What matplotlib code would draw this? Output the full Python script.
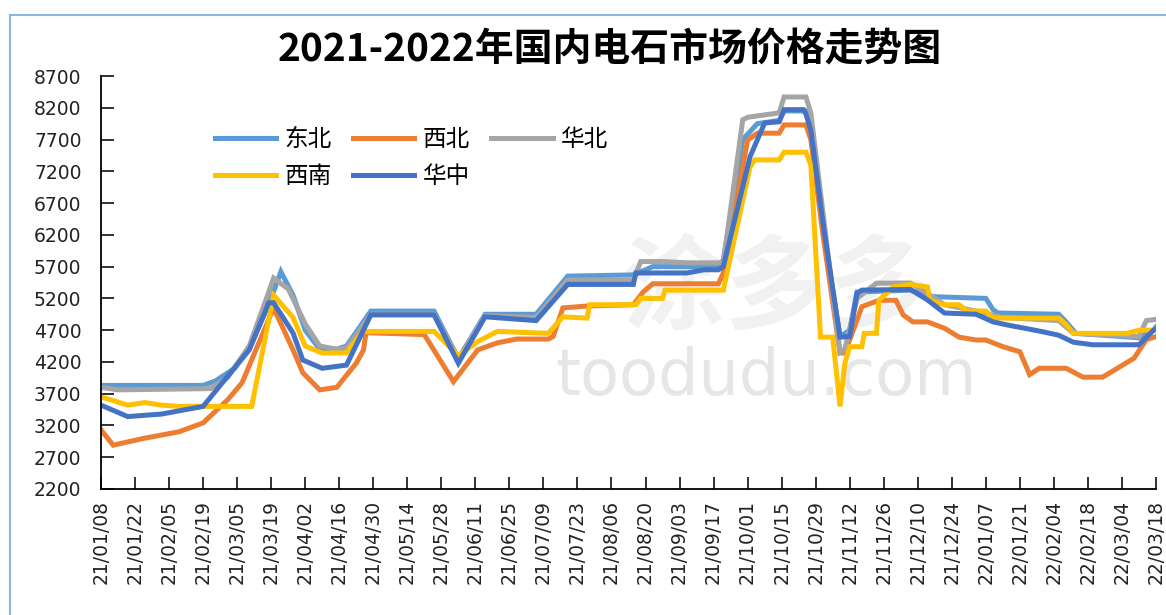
import matplotlib
matplotlib.use("Agg")
import matplotlib.pyplot as plt
import matplotlib.dates as mdates
from matplotlib.lines import Line2D
import pandas as pd

plt.rcParams['font.family'] = ['Noto Sans CJK SC', 'DejaVu Sans']

# 东北
db_dates = ['2021-01-08', '2021-02-19', '2021-02-24', '2021-03-04', '2021-03-11', '2021-03-18',
            '2021-03-23', '2021-03-28', '2021-04-02', '2021-04-08', '2021-04-15', '2021-04-19',
            '2021-04-29', '2021-05-25', '2021-06-04', '2021-06-15', '2021-07-06', '2021-07-19',
            '2021-08-15', '2021-08-23', '2021-09-18', '2021-09-21', '2021-09-29', '2021-10-05',
            '2021-10-14', '2021-10-16', '2021-10-25', '2021-10-27', '2021-11-01', '2021-11-08',
            '2021-11-12', '2021-11-15', '2021-12-07', '2021-12-14', '2022-01-07', '2022-01-10',
            '2022-01-12', '2022-02-06', '2022-02-09', '2022-02-13', '2022-03-11', '2022-03-17',
            '2022-03-18']
db_vals = [3830, 3830, 3900, 4100, 4500, 5100,
           5620, 5250, 4700, 4400, 4400, 4450,
           5000, 5000, 4250, 4950, 4950, 5550,
           5570, 5700, 5700, 5800, 7700, 7950,
           8000, 8150, 8150, 7900, 6300, 4600,
           4700, 5300, 5330, 5230, 5200, 5020,
           4970, 4950, 4830, 4650, 4580, 4700,
           4750]

# 西北
xb_dates = ['2021-01-08', '2021-01-13', '2021-01-26', '2021-02-09', '2021-02-19', '2021-03-01',
            '2021-03-07', '2021-03-20', '2021-03-28', '2021-04-01', '2021-04-08', '2021-04-15',
            '2021-04-23', '2021-04-26', '2021-04-27', '2021-05-21', '2021-06-02', '2021-06-12',
            '2021-06-20', '2021-06-28', '2021-07-11', '2021-07-13', '2021-07-17', '2021-07-27',
            '2021-08-15', '2021-08-19', '2021-08-23', '2021-09-19', '2021-09-21', '2021-10-01',
            '2021-10-05', '2021-10-14', '2021-10-16', '2021-10-25', '2021-10-27', '2021-11-01',
            '2021-11-08', '2021-11-10', '2021-11-17', '2021-11-24', '2021-12-01', '2021-12-04',
            '2021-12-08', '2021-12-14', '2021-12-21', '2021-12-27', '2022-01-03', '2022-01-07',
            '2022-01-14', '2022-01-21', '2022-01-25', '2022-01-29', '2022-02-09', '2022-02-16',
            '2022-02-24', '2022-03-03', '2022-03-09', '2022-03-14', '2022-03-18']
xb_vals = [3130, 2890, 3000, 3100, 3240, 3600,
           3870, 5050, 4390, 4030, 3760, 3800,
           4180, 4390, 4660, 4630, 3890, 4390,
           4500, 4560, 4560, 4600, 5050, 5080,
           5100, 5300, 5430, 5430, 5600, 7690,
           7800, 7800, 7930, 7930, 7700, 6200,
           4340, 4340, 5070, 5170, 5170, 4940,
           4830, 4830, 4730, 4590, 4545, 4545,
           4440, 4360, 4000, 4100, 4100, 3960,
           3960, 4120, 4260, 4550, 4600]

# 华北
hb_dates = ['2021-01-08', '2021-01-15', '2021-02-22', '2021-03-01', '2021-03-10', '2021-03-18',
            '2021-03-20', '2021-03-26', '2021-04-02', '2021-04-08', '2021-04-15', '2021-04-19',
            '2021-04-29', '2021-05-25', '2021-06-04', '2021-06-15', '2021-07-06', '2021-07-19',
            '2021-08-15', '2021-08-18', '2021-08-27', '2021-09-06', '2021-09-19', '2021-09-21',
            '2021-09-29', '2021-10-01', '2021-10-14', '2021-10-16', '2021-10-25', '2021-10-27',
            '2021-11-08', '2021-11-10', '2021-11-15', '2021-11-23', '2021-12-07', '2021-12-14',
            '2021-12-21', '2022-01-03', '2022-01-14', '2022-02-06', '2022-02-12', '2022-03-11',
            '2022-03-14', '2022-03-18']
hb_vals = [3800, 3760, 3780, 3950, 4450, 5300,
           5520, 5350, 4800, 4450, 4400, 4420,
           4950, 4950, 4250, 4930, 4900, 5490,
           5490, 5780, 5780, 5760, 5760, 5760,
           8010, 8050, 8120, 8370, 8370, 8120,
           4350, 4400, 5200, 5440, 5440, 5280,
           5100, 5000, 4900, 4850, 4650, 4600,
           4850, 4870]

# 西南
xn_dates = ['2021-01-08', '2021-01-19', '2021-01-26', '2021-02-02', '2021-02-09', '2021-03-11',
            '2021-03-20', '2021-03-28', '2021-04-02', '2021-04-09', '2021-04-19', '2021-04-21',
            '2021-04-26', '2021-05-25', '2021-06-04', '2021-06-12', '2021-06-20', '2021-07-11',
            '2021-07-17', '2021-07-27', '2021-07-28', '2021-08-16', '2021-08-18', '2021-08-27',
            '2021-08-28', '2021-09-21', '2021-10-02', '2021-10-04', '2021-10-14', '2021-10-16',
            '2021-10-25', '2021-10-27', '2021-10-31', '2021-11-05', '2021-11-08', '2021-11-10',
            '2021-11-12', '2021-11-17', '2021-11-18', '2021-11-23', '2021-11-24', '2021-11-30',
            '2021-12-07', '2021-12-14', '2021-12-15', '2021-12-21', '2021-12-27', '2021-12-30',
            '2022-01-07', '2022-01-10', '2022-02-06', '2022-02-09', '2022-02-12', '2022-03-06',
            '2022-03-11', '2022-03-18']
xn_vals = [3650, 3520, 3560, 3520, 3500, 3500,
           5250, 4900, 4450, 4340, 4340, 4450,
           4680, 4680, 4300, 4520, 4680, 4650,
           4910, 4890, 5100, 5100, 5200, 5200,
           5330, 5330, 7270, 7380, 7380, 7500,
           7500, 7300, 4590, 4590, 3500, 4180,
           4440, 4440, 4650, 4650, 5170, 5380,
           5420, 5380, 5170, 5100, 5100, 5000,
           5000, 4890, 4890, 4790, 4650, 4650,
           4700, 4700]

# 华中
hz_dates = ['2021-01-08', '2021-01-19', '2021-02-02', '2021-02-19', '2021-03-01', '2021-03-10',
            '2021-03-18', '2021-03-20', '2021-03-28', '2021-04-01', '2021-04-09', '2021-04-15',
            '2021-04-19', '2021-04-29', '2021-05-25', '2021-06-04', '2021-06-15', '2021-07-06',
            '2021-07-19', '2021-08-15', '2021-08-16', '2021-09-06', '2021-09-13', '2021-09-19',
            '2021-09-21', '2021-10-02', '2021-10-08', '2021-10-14', '2021-10-16', '2021-10-24',
            '2021-10-25', '2021-10-27', '2021-11-01', '2021-11-08', '2021-11-12', '2021-11-15',
            '2021-11-17', '2021-12-07', '2021-12-14', '2021-12-21', '2022-01-03', '2022-01-10',
            '2022-01-16', '2022-01-23', '2022-01-31', '2022-02-06', '2022-02-12', '2022-02-20',
            '2022-03-11', '2022-03-17', '2022-03-18']
hz_vals = [3520, 3340, 3380, 3500, 3970, 4390,
           5130, 5130, 4655, 4230, 4100, 4130,
           4150, 4940, 4940, 4180, 4910, 4850,
           5420, 5420, 5600, 5600, 5650, 5650,
           5700, 7430, 7960, 7980, 8170, 8170,
           8100, 7850, 6390, 4590, 4600, 5280,
           5330, 5340, 5175, 4970, 4950, 4830,
           4780, 4730, 4670, 4620, 4510, 4470,
           4470, 4700, 4720]

series = [
    ('东北', db_dates, db_vals, '#5B9BD5'),
    ('西北', xb_dates, xb_vals, '#ED7D31'),
    ('华北', hb_dates, hb_vals, '#A5A5A5'),
    ('西南', xn_dates, xn_vals, '#FFC000'),
    ('华中', hz_dates, hz_vals, '#4472C4'),
]

tick_dates = pd.date_range('2021-01-08', '2022-03-18', freq='14D')

fig = plt.figure(figsize=(11.66, 6.15), dpi=100)
ax = fig.add_axes([101 / 1166, 1 - 489 / 615, (1156 - 101) / 1166, (489 - 76) / 615])

# watermark
ax.text(0.63, 0.27, 'toodudu.com', transform=ax.transAxes, fontsize=46,
        color='#e6e6e6', ha='center', va='center', family='DejaVu Sans', zorder=0)
ax.text(0.64, 0.48, '涂多多', transform=ax.transAxes, fontsize=74, fontweight='bold',
        color='#f1f1f1', ha='center', va='center', zorder=0)

handles = {}
for name, d, v, c in series:
    ln, = ax.plot(pd.to_datetime(d), v, color=c, lw=3.6, solid_joinstyle='miter', label=name)
    handles[name] = ln

ax.set_xlim(pd.Timestamp('2021-01-08'), pd.Timestamp('2022-03-18'))
ax.set_ylim(2200, 8700)
ax.set_yticks(range(2200, 8701, 500))
ax.set_xticks(tick_dates)
ax.xaxis.set_major_formatter(mdates.DateFormatter('%y/%m/%d'))
for lab in ax.get_xticklabels():
    lab.set_rotation(90)

for s in ['top', 'right']:
    ax.spines[s].set_visible(False)
for s in ['left', 'bottom']:
    ax.spines[s].set_linewidth(1.3)
ax.tick_params(direction='in', length=9, width=1.3, labelsize=13.5, colors='#222222', pad=8)
for lab in ax.get_xticklabels() + ax.get_yticklabels():
    lab.set_family('DejaVu Sans')
ax.tick_params(axis='y', pad=14)

order = ['东北', '西南', '西北', '华中', '华北']
fig.legend([handles[n] for n in order], order, loc='upper left',
           bbox_to_anchor=(203 / 1166, 1 - 116 / 615), ncol=3, frameon=False,
           fontsize=17, handlelength=2.6, handletextpad=0.35, columnspacing=0.9,
           labelspacing=0.6, borderpad=0)

fig.text(610 / 1166, 1 - 50 / 615, '2021-2022年国内电石市场价格走势图', ha='center', va='center',
         fontsize=28, fontweight='bold')

# outer chart border
fig.add_artist(Line2D([10 / 1166, 1], [1 - 15 / 615, 1 - 15 / 615], transform=fig.transFigure,
                      color='#8DB4E2', lw=1.5))
fig.add_artist(Line2D([10 / 1166, 10 / 1166], [0, 1 - 15 / 615], transform=fig.transFigure,
                      color='#8DB4E2', lw=1.5))

fig.savefig('out.png', dpi=100)
